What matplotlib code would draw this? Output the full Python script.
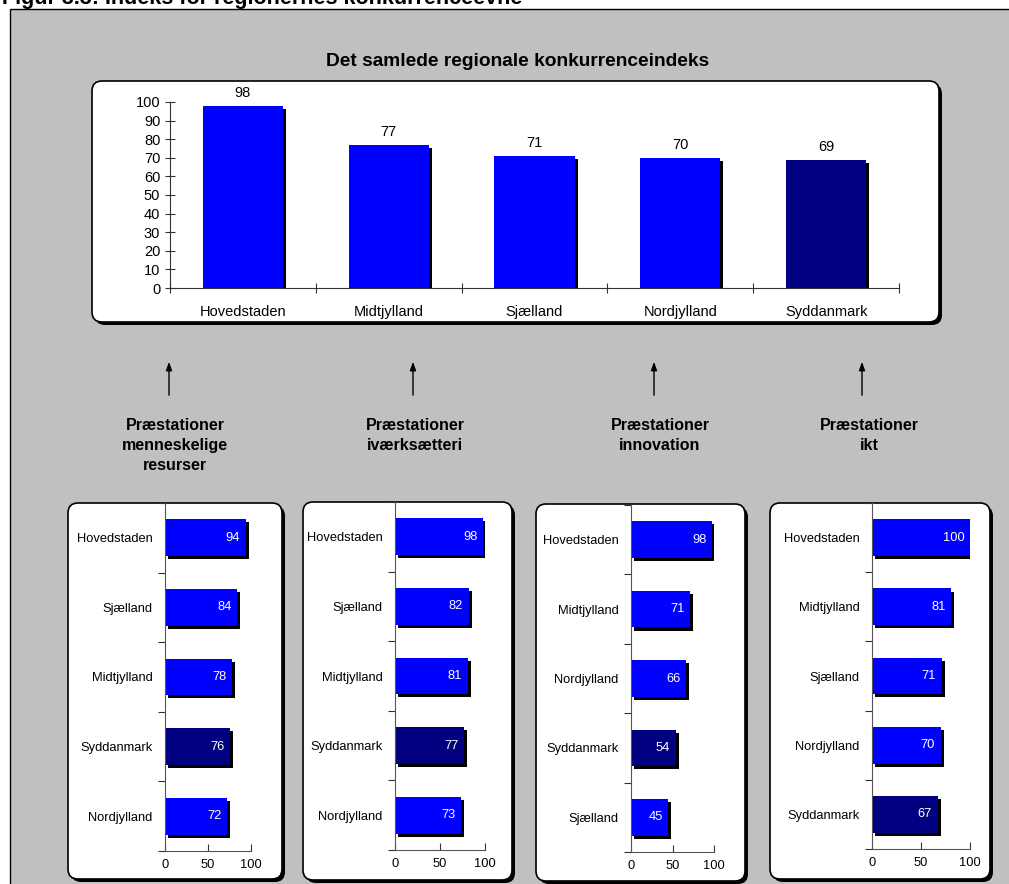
import matplotlib.pyplot as plt
import matplotlib.patheffects as pe
from matplotlib.patches import FancyBboxPatch, Rectangle
import numpy as np

plt.rcParams['font.family'] = ['Liberation Sans', 'DejaVu Sans']

W, H = 1009, 884
BLUE = '#0000ff'
NAVY = '#000080'
GRAY = '#c0c0c0'

# Data
fig_title = 'Figur 3.3: Indeks for regionernes konkurrenceevne'
main_title = 'Det samlede regionale konkurrenceindeks'
main_regions = ['Hovedstaden', 'Midtjylland', 'Sjælland', 'Nordjylland', 'Syddanmark']
main_values = [98, 77, 71, 70, 69]

sub_titles = ['Præstationer\nmenneskelige\nresurser',
              'Præstationer\niværksætteri',
              'Præstationer\ninnovation',
              'Præstationer\nikt']
sub_regions = [
    ['Hovedstaden', 'Sjælland', 'Midtjylland', 'Syddanmark', 'Nordjylland'],
    ['Hovedstaden', 'Sjælland', 'Midtjylland', 'Syddanmark', 'Nordjylland'],
    ['Hovedstaden', 'Midtjylland', 'Nordjylland', 'Syddanmark', 'Sjælland'],
    ['Hovedstaden', 'Midtjylland', 'Sjælland', 'Nordjylland', 'Syddanmark'],
]
sub_values = [
    [94, 84, 78, 76, 72],
    [98, 82, 81, 77, 73],
    [98, 71, 66, 54, 45],
    [100, 81, 71, 70, 67],
]

fig = plt.figure(figsize=(W / 100, H / 100), dpi=100)
fig.patch.set_facecolor('white')

# background canvas in pixel coordinates
bg = fig.add_axes([0, 0, 1, 1])
bg.set_xlim(0, W)
bg.set_ylim(H, 0)
bg.axis('off')
bg.add_patch(Rectangle((10, 9), W, H, facecolor=GRAY, edgecolor='black', lw=1))


def panel(l, t, r, b):
    # rounded white box with a dark drop shadow
    shadow = FancyBboxPatch((l + 3, t + 3), r - l, b - t,
                            boxstyle='round,pad=0,rounding_size=10',
                            facecolor='black', edgecolor='none')
    box = FancyBboxPatch((l, t), r - l, b - t,
                         boxstyle='round,pad=0,rounding_size=10',
                         facecolor='white', edgecolor='black', lw=1.2)
    bg.add_patch(shadow)
    bg.add_patch(box)


def px_axes(l, t, r, b):
    ax = fig.add_axes([l / W, 1 - b / H, (r - l) / W, (b - t) / H])
    ax.patch.set_alpha(0)
    return ax


def bar_colors(regions):
    return [NAVY if reg == 'Syddanmark' else BLUE for reg in regions]


shadow_fx = [pe.SimplePatchShadow(offset=(2.2, -2.2), shadow_rgbFace='black', alpha=1),
             pe.Normal()]

# top chart
panel(92, 81, 939, 322)
bg.text(518, 62, main_title, ha='center', va='center', fontsize=13.8, fontweight='bold')
ax = px_axes(170, 102, 899, 288)
x = np.arange(len(main_regions)) + 0.5
bars = ax.bar(x, main_values, 0.55, color=bar_colors(main_regions), path_effects=shadow_fx)
ax.set_xlim(0, 5)
ax.set_ylim(0, 100)
ax.set_yticks(np.arange(0, 101, 10))
ax.set_xticks(np.arange(0, 6))
ax.set_xticklabels([])
ax.set_xticks(x, minor=True)
ax.set_xticklabels(main_regions, minor=True)
ax.tick_params(axis='x', which='minor', length=0, pad=12, labelsize=10.5)
ax.tick_params(axis='both', which='major', direction='inout', length=7, width=0.8,
               color='#333333', labelsize=10.5)
for s in ['top', 'right']:
    ax.spines[s].set_visible(False)
for s in ['left', 'bottom']:
    ax.spines[s].set_color('#333333')
    ax.spines[s].set_linewidth(0.8)
for rect, v in zip(bars, main_values):
    ax.annotate(str(v), (rect.get_x() + rect.get_width() / 2, v),
                xytext=(0, 4), textcoords='offset points',
                ha='center', va='bottom', fontsize=10.5, annotation_clip=False)

# arrows and labels
arrow_x = [169, 413, 654, 862]
label_x = [175, 415, 660, 869]
for ax_x, lx, txt in zip(arrow_x, label_x, sub_titles):
    bg.annotate('', xy=(ax_x, 359), xytext=(ax_x, 398),
                arrowprops=dict(arrowstyle='-|>,head_length=0.5,head_width=0.18',
                                color='black', lw=1))
    bg.text(lx, 418, txt, ha='center', va='top', fontsize=11.5, fontweight='bold',
            linespacing=1.4)

# bottom panels: box (l, t, r, b) and axes (l, t, r, b)
boxes = [(68, 503, 282, 879), (303, 502, 512, 880), (536, 504, 745, 881), (770, 503, 990, 879)]
axes_px = [(165, 503, 251, 851), (395, 502, 485, 850), (631, 505, 714, 852), (872, 503, 970, 849)]

for box, apx, regs, vals in zip(boxes, axes_px, sub_regions, sub_values):
    panel(*box)
    ax = px_axes(*apx)
    y = np.arange(len(regs))[::-1] + 0.5
    hb = ax.barh(y, vals, 0.53, color=bar_colors(regs), path_effects=shadow_fx)
    ax.set_xlim(0, 100)
    ax.set_ylim(0, 5)
    ax.set_xticks([0, 50, 100])
    ax.set_yticks(np.arange(0, 6))
    ax.set_yticklabels([])
    ax.set_yticks(y, minor=True)
    ax.set_yticklabels(regs, minor=True)
    ax.tick_params(axis='y', which='minor', length=0, pad=9, labelsize=9.3)
    ax.tick_params(axis='y', which='major', direction='out', length=5, width=0.8, color='#333333')
    ax.tick_params(axis='x', which='major', direction='in', length=5, width=0.8,
                   color='#333333', labelsize=9.3, pad=6)
    for s in ['top', 'right']:
        ax.spines[s].set_visible(False)
    for s in ['left', 'bottom']:
        ax.spines[s].set_color('#555555')
        ax.spines[s].set_linewidth(0.8)
    for rect, v in zip(hb, vals):
        ax.annotate(str(v), (v, rect.get_y() + rect.get_height() / 2),
                    xytext=(-4, 0), textcoords='offset points',
                    ha='right', va='center', color='white', fontsize=9.3)

# figure caption, cut off at the top edge like the source
bg.text(2, 4, fig_title, ha='left', va='baseline', fontsize=15.5, fontweight='bold')

fig.savefig('out.png', dpi=100)
